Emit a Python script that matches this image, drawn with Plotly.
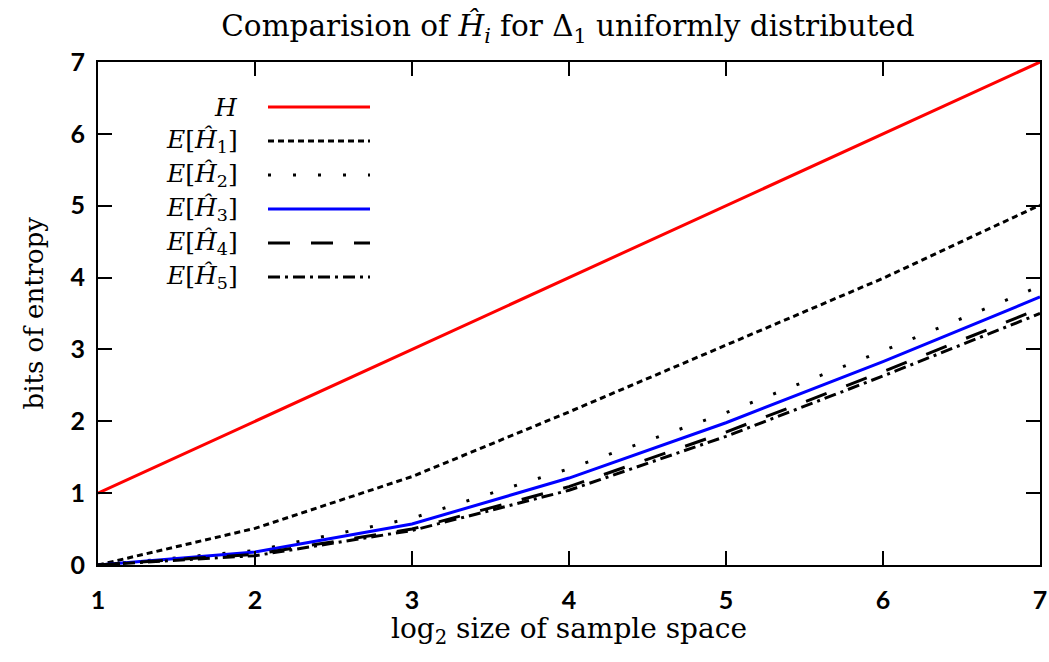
import plotly.graph_objects as go

x_vals = [1, 2, 3, 4, 5, 6, 7]
H = [1, 2, 3, 4, 5, 6, 7]
E_H1 = [0.0, 0.51, 1.23, 2.13, 3.06, 3.99, 5.01]
E_H2 = [0.0, 0.20, 0.65, 1.34, 2.12, 2.98, 3.88]
E_H3 = [0.0, 0.18, 0.57, 1.21, 1.98, 2.83, 3.73]
E_H4 = [0.0, 0.15, 0.50, 1.09, 1.85, 2.69, 3.57]
E_H5 = [0.0, 0.13, 0.48, 1.04, 1.79, 2.63, 3.50]

names = ["<i>H</i>", "<i>E</i>[<i>Ĥ</i><sub>1</sub>]", "<i>E</i>[<i>Ĥ</i><sub>2</sub>]",
         "<i>E</i>[<i>Ĥ</i><sub>3</sub>]", "<i>E</i>[<i>Ĥ</i><sub>4</sub>]", "<i>E</i>[<i>Ĥ</i><sub>5</sub>]"]
series = [H, E_H1, E_H2, E_H3, E_H4, E_H5]
colors = ["#ff0000", "black", "black", "#0000ff", "black", "black"]
dashes = ["solid", "6px,4px", "3px,22px", "solid", "22px,21px", "12px,5px,3px,5px"]

serif = "DejaVu Serif, Liberation Serif, serif"

fig = go.Figure()
for name, ys, c, d in zip(names, series, colors, dashes):
    fig.add_trace(go.Scatter(x=x_vals, y=ys, mode="lines", name=name,
                             line=dict(color=c, width=3, dash=d), showlegend=False))

# manual legend (labels left of samples, as in reference)
L, R, T, B = 98, 1040, 62, 565
W, Hh = R - L, B - T
row_y = [107, 141, 175, 209, 243, 277]
for i, (name, c, d) in enumerate(zip(names, colors, dashes)):
    yp = (B - row_y[i]) / Hh
    fig.add_annotation(x=(240 - L) / W, y=yp, xref="paper", yref="paper", text=name,
                       showarrow=False, xanchor="right", yanchor="middle",
                       font=dict(family=serif, size=25, color="black"))
    fig.add_shape(type="line", xref="paper", yref="paper",
                  x0=(268 - L) / W, x1=(370 - L) / W, y0=yp, y1=yp,
                  line=dict(color=c, width=3, dash=d))

# axis titles as annotations for exact placement
fig.add_annotation(x=0.5, y=-(630 - B) / Hh, xref="paper", yref="paper",
                   xanchor="center", yanchor="middle", showarrow=False,
                   text="log<sub>2</sub> size of sample space",
                   font=dict(family=serif, size=28, color="black"))
fig.add_annotation(x=-(L - 33) / W, y=0.5, xref="paper", yref="paper",
                   xanchor="center", yanchor="middle", showarrow=False, textangle=-90,
                   text="bits of entropy",
                   font=dict(family=serif, size=26, color="black"))

axis_common = dict(showline=True, linecolor="black", linewidth=2, mirror="allticks",
                   ticks="inside", ticklen=14, tickwidth=1.5, tickcolor="black",
                   showgrid=False, zeroline=False, automargin=False,
                   tickfont=dict(family="Lato, DejaVu Sans, sans-serif", size=25, color="black", weight="bold"))

fig.update_layout(
    width=1049, height=662,
    margin=dict(l=L, r=1049 - R, t=T, b=662 - B, autoexpand=False),
    plot_bgcolor="white", paper_bgcolor="white",
    title=dict(text="Comparision of <i>Ĥ</i><sub><i>i</i></sub> for Δ<sub>1</sub> uniformly distributed",
               x=568 / 1049, xanchor="center", y=1 - 26 / 662, yanchor="middle",
               font=dict(family=serif, size=29.5, color="black")),
    xaxis=dict(range=[1, 7], tickvals=[1, 2, 3, 4, 5, 6, 7], ticklabelstandoff=12,
               **axis_common),
    yaxis=dict(range=[0, 7], tickvals=[0, 1, 2, 3, 4, 5, 6, 7], ticklabelstandoff=6,
               **axis_common),
)

fig.write_html("out.html", config={"displayModeBar": False},
               post_script="document.body.style.margin='0';document.body.style.overflow='hidden';")
